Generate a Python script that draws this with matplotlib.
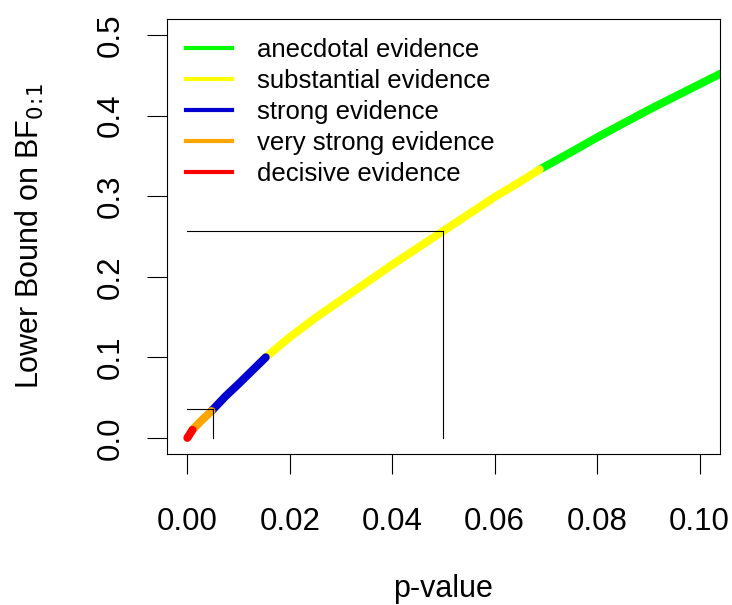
import matplotlib
matplotlib.use('Agg')
import matplotlib.pyplot as plt
import numpy as np

# curve (boundary points at the evidence thresholds included)
p_values = [0.0, 0.001, 0.0025, 0.0047, 0.0075, 0.01, 0.0153, 0.02, 0.025, 0.03,
            0.035, 0.04, 0.045, 0.05, 0.055, 0.06, 0.065, 0.0688, 0.075, 0.08,
            0.085, 0.09, 0.095, 0.1, 0.105]
bf_bound = [0.0, 0.01, 0.02, 0.0333, 0.052, 0.067, 0.1, 0.125, 0.149, 0.171,
            0.193, 0.215, 0.236, 0.257, 0.278, 0.299, 0.318, 0.3333, 0.355, 0.373,
            0.390, 0.407, 0.423, 0.439, 0.455]

categories = ['anecdotal evidence', 'substantial evidence', 'strong evidence',
              'very strong evidence', 'decisive evidence']
cat_colors = ['#00ff00', '#ffff00', '#0000d0', '#ffa500', '#ff0000']
cat_lower = [0.3333, 0.1, 0.0333, 0.01, 0.0]
cat_upper = [1.0, 0.3333, 0.1, 0.0333, 0.01]

# reference lines: p = .05 and p = .005
ref_p = [0.05, 0.005]
ref_bf = [0.257, 0.0354]

plt.rcParams['font.family'] = ['Liberation Sans', 'DejaVu Sans']

fig = plt.figure(figsize=(7.32, 6.05), dpi=100)
ax = fig.add_axes([0.228, 0.2496, 0.7556, 0.719])

p_arr = np.array(p_values)
bf_arr = np.array(bf_bound)
for name, col, lo, hi in zip(categories, cat_colors, cat_lower, cat_upper):
    m = (bf_arr >= lo) & (bf_arr <= hi)
    ax.plot(p_arr[m], bf_arr[m], color=col, lw=5.8, solid_capstyle='round')

for rp, rb in zip(ref_p, ref_bf):
    ax.plot([0, rp], [rb, rb], color='black', lw=0.8)
    ax.plot([rp, rp], [0, rb], color='black', lw=0.8)

handles = [plt.Line2D([], [], color=c, lw=3) for c in cat_colors]
ax.legend(handles, categories, loc='upper left', frameon=False, fontsize=18.5,
          handlelength=1.8, handletextpad=0.95, labelspacing=0.27,
          bbox_to_anchor=(0.0, 1.0), borderaxespad=0.5, borderpad=0.25)

ax.set_xlim(-0.004, 0.104)
ax.set_ylim(-0.02, 0.52)
ax.set_xticks(np.arange(0, 0.101, 0.02))
ax.set_xticklabels(['0.00', '0.02', '0.04', '0.06', '0.08', '0.10'])
ax.set_yticks(np.arange(0, 0.51, 0.1))
ax.set_yticklabels(['0.0', '0.1', '0.2', '0.3', '0.4', '0.5'], rotation=90, va='center')
ax.tick_params(length=14.4, width=0.8, labelsize=22.5, colors='black')
ax.tick_params(axis='x', pad=24)
ax.tick_params(axis='y', pad=15)
for s in ax.spines.values():
    s.set_linewidth(0.8)

ax.set_xlabel('p-value', fontsize=22, va='center')
ax.set_ylabel(r'Lower Bound on BF$_{0\!:\!1}$', fontsize=22, va='center')
ax.xaxis.set_label_coords(0.5, -0.31)
ax.yaxis.set_label_coords(-0.248, 0.5)

fig.savefig('out.png', dpi=100)
